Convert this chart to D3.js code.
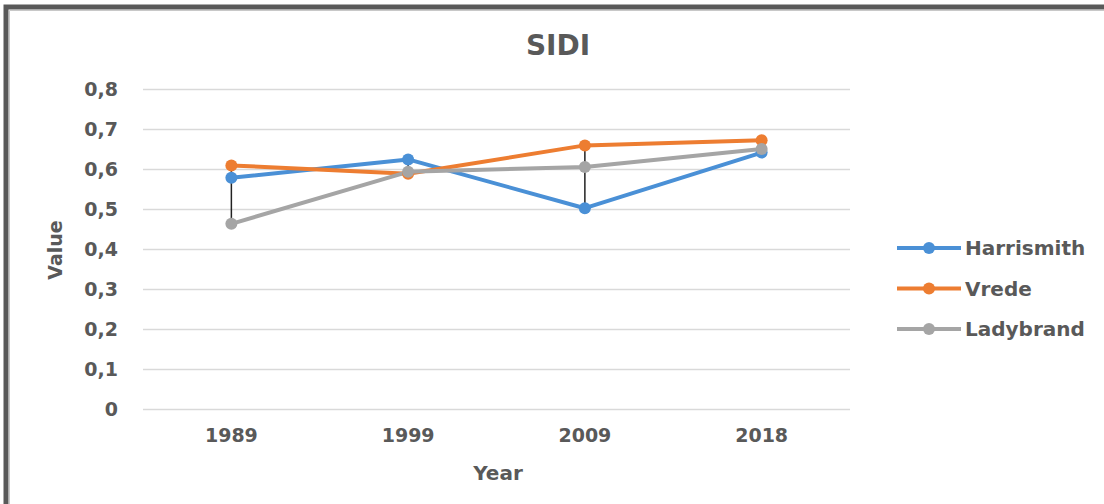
<!DOCTYPE html>
<html>
<head>
<meta charset="utf-8">
<script src="https://cdn.jsdelivr.net/npm/d3@7"></script>
<style>
  body { margin: 0; background: #fff; }
  svg text { font-family: "DejaVu Sans", sans-serif; font-weight: bold; fill: #595959; }
</style>
</head>
<body>
<svg width="1104" height="504"></svg>
<script>
// chart values
const years = ["1989", "1999", "2009", "2018"]
const seriesNames = ["Harrismith", "Vrede", "Ladybrand"]
const harrismith = [0.578, 0.624, 0.502, 0.641]
const vrede = [0.609, 0.588, 0.659, 0.672]
const ladybrand = [0.463, 0.593, 0.605, 0.650]
const yTicks = [0, 0.1, 0.2, 0.3, 0.4, 0.5, 0.6, 0.7, 0.8]
const colors = ["#4a90d6", "#ed7d31", "#a5a5a5"]

const series = [harrismith, vrede, ladybrand].map((vals, i) => ({
    name: seriesNames[i],
    color: colors[i],
    values: vals
}))

const svg = d3.select("svg")
const plot = { left: 143, right: 850, top: 89, bottom: 409 }

// frame round the chart
svg.append("path")
    .attr("d", "M6,504 V7 H1104")
    .attr("fill", "none")
    .attr("stroke", "#595959")
    .attr("stroke-width", 5)
svg.append("path")
    .attr("d", "M9.5,504 V10.5 H1104")
    .attr("fill", "none")
    .attr("stroke", "#c8c8c8")
    .attr("stroke-width", 1)

const x = d3.scaleBand()
    .domain(years)
    .range([plot.left, plot.right])

const y = d3.scaleLinear()
    .domain([0, 0.8])
    .range([plot.bottom, plot.top])

const fmt = v => d3.format(".1f")(v).replace(".", ",")

// gridlines + y labels
const yAxis = d3.axisLeft(y)
    .tickValues(yTicks)
    .tickSize(-(plot.right - plot.left))
    .tickPadding(25)
    .tickFormat(v => v === 0 ? "0" : fmt(v))
svg.append("g")
    .attr("transform", `translate(${plot.left},0)`)
    .call(yAxis)
    .call(g => g.select(".domain").remove())
    .call(g => g.selectAll(".tick line").attr("stroke", "#d9d9d9").attr("stroke-width", 1.5))
    .call(g => g.selectAll(".tick text").attr("font-size", 19))

// x labels
const xAxis = d3.axisBottom(x).tickSize(0).tickPadding(20)
svg.append("g")
    .attr("transform", `translate(0,${plot.bottom})`)
    .call(xAxis)
    .call(g => g.select(".domain").remove())
    .call(g => g.selectAll(".tick text").attr("font-size", 19))

const cx = d => x(d) + x.bandwidth() / 2

// high-low lines
const hiLo = years.map((yr, i) => {
    const vals = series.map(s => s.values[i])
    return { year: yr, hi: d3.max(vals), lo: d3.min(vals) }
})

const line = d3.line()
    .x((d, i) => cx(years[i]))
    .y(d => y(d))

series.forEach(s => {
    svg.append("path")
        .datum(s.values)
        .attr("d", line)
        .attr("fill", "none")
        .attr("stroke", s.color)
        .attr("stroke-width", 4)
        .attr("stroke-linejoin", "round")
})

svg.append("g").selectAll("line").data(hiLo).enter().append("line")
    .attr("x1", d => cx(d.year))
    .attr("x2", d => cx(d.year))
    .attr("y1", d => y(d.hi))
    .attr("y2", d => y(d.lo))
    .attr("stroke", "#222")
    .attr("stroke-width", 1.5)

series.forEach(s => {
    svg.append("g").selectAll("circle").data(s.values).enter().append("circle")
        .attr("cx", (d, i) => cx(years[i]))
        .attr("cy", d => y(d))
        .attr("r", 6)
        .attr("fill", s.color)
})

// title and axis titles
svg.append("text")
    .attr("x", 558)
    .attr("y", 55)
    .attr("text-anchor", "middle")
    .attr("font-size", 28)
    .text("SIDI")
svg.append("text")
    .attr("x", 498)
    .attr("y", 480)
    .attr("text-anchor", "middle")
    .attr("font-size", 20)
    .text("Year")
svg.append("text")
    .attr("transform", "translate(62,250) rotate(-90)")
    .attr("text-anchor", "middle")
    .attr("font-size", 19)
    .text("Value")

// legend
const legend = svg.append("g")
    .selectAll("g").data(series).enter().append("g")
    .attr("transform", (d, i) => `translate(897,${248 + i * 40.5})`)
legend.append("line")
    .attr("x1", 0).attr("x2", 64)
    .attr("stroke", d => d.color)
    .attr("stroke-width", 4)
legend.append("circle")
    .attr("cx", 32).attr("r", 6)
    .attr("fill", d => d.color)
legend.append("text")
    .attr("x", 68)
    .attr("dy", "0.35em")
    .attr("font-size", 20)
    .text(d => d.name)
</script>
</body>
</html>
